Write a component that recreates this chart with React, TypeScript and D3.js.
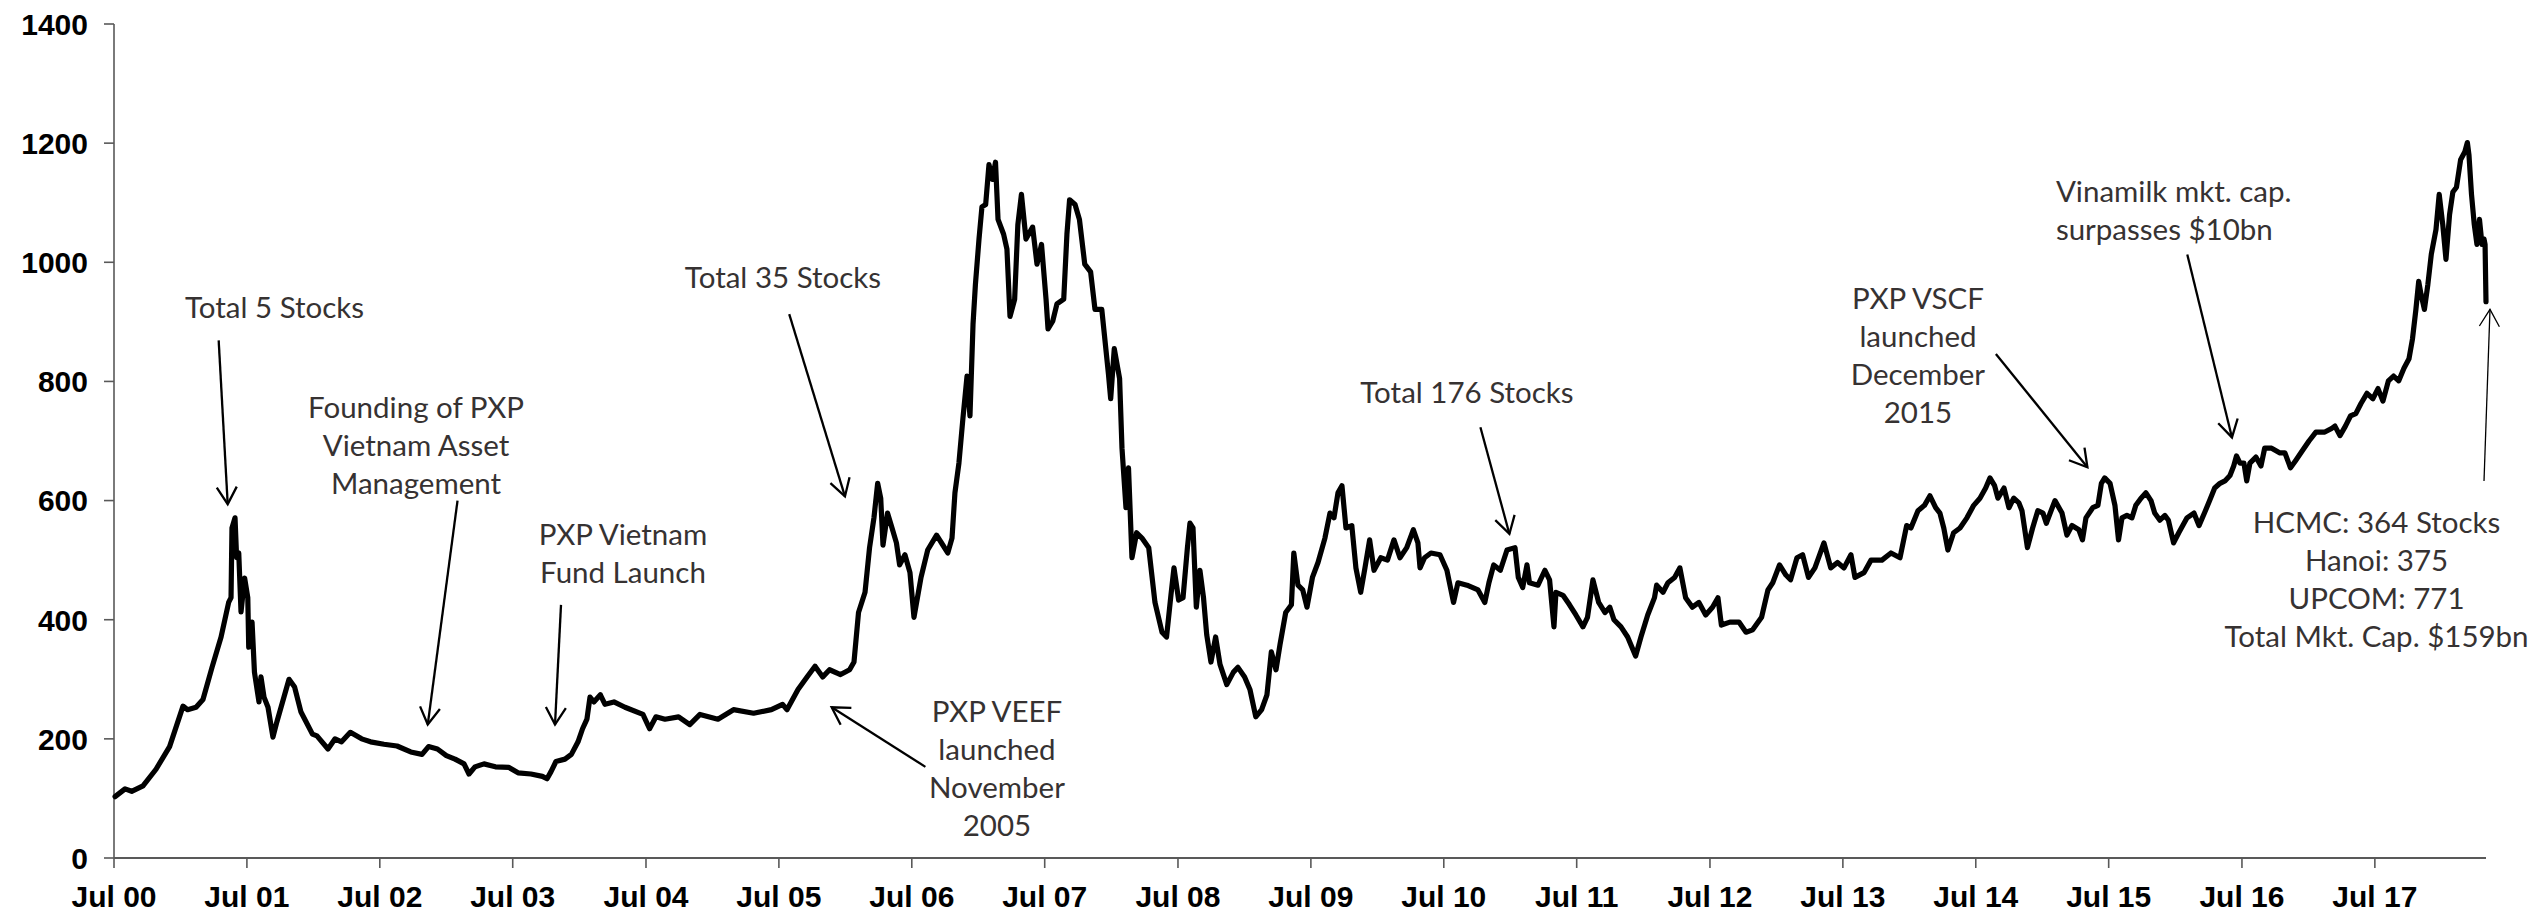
import React from 'react';
import * as d3 from 'd3';

// VN-Index (decimal year, index level)
const indexSeries: [number, number][] = [
  [2000.508, 103], [2000.583, 116], [2000.633, 112], [2000.718, 121], [2000.816, 149], [2000.918, 187],
  [2001.019, 255], [2001.053, 249], [2001.117, 253], [2001.169, 266], [2001.237, 320], [2001.305, 371],
  [2001.362, 429], [2001.38, 437], [2001.387, 554], [2001.41, 571], [2001.422, 504], [2001.438, 512],
  [2001.455, 413], [2001.482, 470], [2001.506, 437], [2001.513, 354], [2001.538, 396], [2001.556, 312],
  [2001.59, 262], [2001.605, 304], [2001.628, 270], [2001.658, 253], [2001.695, 203], [2001.724, 228],
  [2001.816, 300], [2001.858, 287], [2001.906, 245], [2001.992, 208], [2002.026, 205], [2002.109, 183],
  [2002.162, 200], [2002.211, 195], [2002.277, 211], [2002.362, 200], [2002.429, 195], [2002.53, 191],
  [2002.628, 188], [2002.731, 178], [2002.816, 174], [2002.865, 187], [2002.932, 183], [2002.999, 172],
  [2003.064, 166], [2003.132, 158], [2003.169, 141], [2003.214, 153], [2003.282, 158], [2003.368, 153],
  [2003.47, 152], [2003.538, 143], [2003.635, 141], [2003.721, 137], [2003.756, 133], [2003.786, 145],
  [2003.823, 162], [2003.891, 166], [2003.939, 174], [2003.989, 195], [2004.023, 217], [2004.056, 233],
  [2004.079, 270], [2004.108, 262], [2004.157, 274], [2004.192, 258], [2004.259, 262], [2004.342, 253],
  [2004.477, 241], [2004.527, 217], [2004.575, 237], [2004.643, 233], [2004.745, 237], [2004.829, 224],
  [2004.906, 241], [2005.041, 233], [2005.158, 249], [2005.309, 243], [2005.443, 249], [2005.527, 258],
  [2005.56, 249], [2005.643, 283], [2005.711, 304], [2005.771, 322], [2005.829, 304], [2005.88, 316],
  [2005.963, 308], [2006.031, 316], [2006.064, 329], [2006.098, 412], [2006.147, 446], [2006.181, 521],
  [2006.214, 571], [2006.242, 629], [2006.265, 604], [2006.282, 525], [2006.316, 579], [2006.35, 554],
  [2006.383, 529], [2006.407, 492], [2006.447, 509], [2006.485, 479], [2006.515, 404], [2006.568, 471],
  [2006.618, 517], [2006.685, 542], [2006.733, 525], [2006.769, 512], [2006.801, 537], [2006.823, 613],
  [2006.853, 663], [2006.883, 738], [2006.914, 809], [2006.936, 742], [2006.959, 896], [2006.977, 963],
  [2007.004, 1039], [2007.026, 1093], [2007.054, 1097], [2007.079, 1164], [2007.105, 1139], [2007.128, 1168],
  [2007.147, 1072], [2007.189, 1047], [2007.214, 1022], [2007.237, 909], [2007.272, 938], [2007.296, 1063],
  [2007.323, 1114], [2007.357, 1039], [2007.407, 1059], [2007.44, 997], [2007.474, 1030], [2007.508, 938],
  [2007.523, 888], [2007.558, 901], [2007.59, 930], [2007.641, 938], [2007.665, 1047], [2007.685, 1105],
  [2007.726, 1097], [2007.759, 1072], [2007.799, 997], [2007.843, 984], [2007.876, 921], [2007.927, 921],
  [2007.977, 813], [2007.994, 771], [2008.021, 855], [2008.061, 805], [2008.079, 688], [2008.109, 588],
  [2008.128, 655], [2008.154, 504], [2008.189, 546], [2008.229, 537], [2008.28, 521], [2008.327, 429],
  [2008.38, 379], [2008.414, 371], [2008.447, 441], [2008.47, 487], [2008.505, 433], [2008.538, 437],
  [2008.571, 521], [2008.59, 562], [2008.613, 554], [2008.638, 421], [2008.665, 483], [2008.692, 437],
  [2008.716, 375], [2008.748, 329], [2008.783, 371], [2008.816, 325], [2008.867, 291], [2008.917, 312],
  [2008.951, 320], [2009.001, 304], [2009.041, 283], [2009.085, 237], [2009.129, 249], [2009.169, 274],
  [2009.202, 346], [2009.237, 316], [2009.267, 358], [2009.31, 412], [2009.353, 425], [2009.371, 512],
  [2009.402, 458], [2009.438, 450], [2009.47, 421], [2009.511, 471], [2009.553, 496], [2009.605, 537],
  [2009.643, 579], [2009.673, 571], [2009.703, 613], [2009.733, 625], [2009.763, 554], [2009.807, 558],
  [2009.838, 487], [2009.874, 446], [2009.906, 487], [2009.941, 534], [2009.974, 483], [2010.025, 504],
  [2010.075, 500], [2010.124, 534], [2010.169, 504], [2010.22, 521], [2010.27, 551], [2010.304, 529],
  [2010.32, 487], [2010.354, 504], [2010.402, 512], [2010.47, 509], [2010.522, 483], [2010.572, 429],
  [2010.605, 462], [2010.673, 458], [2010.756, 450], [2010.807, 429], [2010.838, 462], [2010.874, 492],
  [2010.924, 483], [2010.974, 517], [2011.034, 521], [2011.059, 471], [2011.092, 454], [2011.124, 492],
  [2011.143, 462], [2011.207, 458], [2011.259, 483], [2011.294, 467], [2011.327, 388], [2011.342, 446],
  [2011.395, 441], [2011.444, 425], [2011.492, 408], [2011.545, 388], [2011.579, 404], [2011.62, 467],
  [2011.663, 429], [2011.711, 412], [2011.747, 421], [2011.778, 400], [2011.831, 388], [2011.881, 371],
  [2011.941, 339], [2011.981, 371], [2012.032, 408], [2012.083, 437], [2012.099, 458], [2012.147, 446],
  [2012.184, 462], [2012.234, 471], [2012.274, 487], [2012.317, 437], [2012.368, 421], [2012.417, 429],
  [2012.468, 408], [2012.519, 421], [2012.56, 437], [2012.586, 391], [2012.65, 396], [2012.718, 396],
  [2012.771, 379], [2012.821, 383], [2012.888, 404], [2012.936, 450], [2012.972, 462], [2013.023, 492],
  [2013.071, 475], [2013.106, 467], [2013.154, 504], [2013.197, 509], [2013.241, 471], [2013.289, 487],
  [2013.357, 529], [2013.408, 487], [2013.459, 496], [2013.508, 487], [2013.56, 509], [2013.59, 471],
  [2013.658, 479], [2013.711, 500], [2013.793, 500], [2013.861, 512], [2013.929, 504], [2013.979, 558],
  [2014.011, 554], [2014.064, 583], [2014.113, 592], [2014.154, 608], [2014.197, 588], [2014.229, 579],
  [2014.258, 554], [2014.289, 517], [2014.332, 546], [2014.38, 554], [2014.432, 571], [2014.483, 592],
  [2014.53, 604], [2014.573, 621], [2014.605, 638], [2014.64, 625], [2014.665, 604], [2014.711, 621],
  [2014.748, 588], [2014.784, 604], [2014.823, 596], [2014.846, 583], [2014.887, 521], [2014.926, 554],
  [2014.965, 583], [2015.004, 579], [2015.029, 562], [2015.094, 600], [2015.147, 579], [2015.184, 542],
  [2015.222, 558], [2015.274, 551], [2015.301, 534], [2015.327, 571], [2015.378, 588], [2015.417, 592],
  [2015.443, 629], [2015.468, 638], [2015.508, 629], [2015.545, 592], [2015.572, 534], [2015.598, 571],
  [2015.635, 575], [2015.673, 571], [2015.702, 592], [2015.741, 604], [2015.778, 613], [2015.816, 600],
  [2015.844, 579], [2015.883, 567], [2015.921, 575], [2015.947, 567], [2015.986, 529], [2016.025, 546],
  [2016.087, 571], [2016.139, 579], [2016.177, 558], [2016.218, 579], [2016.257, 600], [2016.295, 621],
  [2016.335, 629], [2016.372, 633], [2016.41, 642], [2016.438, 658], [2016.459, 675], [2016.485, 663],
  [2016.515, 663], [2016.536, 633], [2016.56, 663], [2016.605, 673], [2016.643, 658], [2016.671, 688],
  [2016.723, 688], [2016.786, 680], [2016.823, 680], [2016.865, 655], [2016.903, 667], [2016.955, 684],
  [2017.004, 700], [2017.056, 715], [2017.123, 715], [2017.174, 721], [2017.199, 725], [2017.237, 709],
  [2017.278, 725], [2017.316, 742], [2017.356, 746], [2017.395, 763], [2017.44, 780], [2017.485, 771],
  [2017.523, 788], [2017.56, 767], [2017.601, 801], [2017.64, 809], [2017.679, 801], [2017.718, 822],
  [2017.756, 838], [2017.782, 871], [2017.808, 921], [2017.829, 968], [2017.846, 947], [2017.872, 921],
  [2017.898, 963], [2017.924, 1014], [2017.959, 1055], [2017.983, 1114], [2018.01, 1063], [2018.034, 1005],
  [2018.061, 1080], [2018.086, 1118], [2018.113, 1126], [2018.144, 1172], [2018.175, 1185], [2018.195, 1201],
  [2018.207, 1180], [2018.226, 1114], [2018.247, 1063], [2018.267, 1030], [2018.286, 1072], [2018.305, 1030],
  [2018.32, 1039], [2018.328, 1030], [2018.335, 934],
];

const yTickValues = [0, 200, 400, 600, 800, 1000, 1200, 1400];
const xTickYears = d3.range(2000, 2018);
const xTickLabels = xTickYears.map(y => `Jul ${String(y % 100).padStart(2, '0')}`);

// call-outs: label anchor and arrow tail/tip given in (year, index) units
const annotations = [
  { lines: ['Total 5 Stocks'], at: [2001.707, 906], align: 'middle', from: [2001.287, 869], to: [2001.355, 594] },
  { lines: ['Founding of PXP', 'Vietnam Asset', 'Management'], at: [2002.771, 738], align: 'middle', from: [2003.083, 600], to: [2002.859, 224] },
  { lines: ['PXP Vietnam', 'Fund Launch'], at: [2004.327, 525], align: 'middle', from: [2003.861, 425], to: [2003.816, 224] },
  { lines: ['Total 35 Stocks'], at: [2005.53, 957], align: 'middle', from: [2005.577, 913], to: [2005.996, 607] },
  { lines: ['PXP VEEF', 'launched', 'November', '2005'], at: [2007.139, 228], align: 'middle', from: [2006.601, 153], to: [2005.896, 253] },
  { lines: ['Total 176 Stocks'], at: [2010.673, 763], align: 'middle', from: [2010.774, 723], to: [2010.992, 544] },
  { lines: ['PXP VSCF', 'launched', 'December', '2015'], at: [2014.064, 921], align: 'middle', from: [2014.65, 846], to: [2015.338, 656] },
  { lines: ['Vinamilk mkt. cap.', 'surpasses $10bn'], at: [2015.101, 1101], align: 'start', from: [2016.089, 1013], to: [2016.425, 706] },
  { lines: ['HCMC: 364 Stocks', 'Hanoi: 375', 'UPCOM: 771', 'Total Mkt. Cap. $159bn'], at: [2017.512, 546], align: 'middle', from: [2018.32, 633], to: [2018.365, 921], thin: true },
];

const W = 2539;
const H = 916;
const left = 114, right = 2486, top = 24, bottom = 858;

const base = new Date(2000, 6, 1).getTime();
const toDate = (dy: number) => new Date(base + (dy - 2000.5) * 365.25 * 864e5);

export default function App() {
  const x = d3.scaleTime().domain([toDate(2000.5), toDate(2018.335)]).range([left, right]);
  const y = d3.scaleLinear().domain([0, 1400]).range([bottom, top]);

  const line = d3.line<[number, number]>()
    .x(d => x(toDate(d[0])))
    .y(d => y(d[1]));

  const arrow = (a: any, i: number) => {
    const x1 = x(toDate(a.from[0])), y1 = y(a.from[1]);
    const x2 = x(toDate(a.to[0])), y2 = y(a.to[1]);
    const len = Math.hypot(x2 - x1, y2 - y1);
    const ux = (x2 - x1) / len, uy = (y2 - y1) / len;
    const L = 17, Wd = 10;
    const head = `M${x2 - L * ux - Wd * uy},${y2 - L * uy + Wd * ux}L${x2},${y2}L${x2 - L * ux + Wd * uy},${y2 - L * uy - Wd * ux}`;
    const sw = a.thin ? 1.3 : 2.3;
    return (
      <g key={'a' + i} stroke="#000" fill="none" strokeWidth={sw}>
        <line x1={x1} y1={y1} x2={x2} y2={y2} />
        <path d={head} strokeLinejoin="miter" />
      </g>
    );
  };

  return (
    <svg width={W} height={H} style={{ position: 'absolute', left: 0, top: 0, display: 'block', background: '#fff' }}>
      {/* y axis */}
      <line x1={left} x2={left} y1={top} y2={bottom} stroke="#595959" strokeWidth={1.6} />
      {yTickValues.map(v => (
        <g key={v}>
          <line x1={left - 10} x2={left} y1={y(v)} y2={y(v)} stroke="#595959" strokeWidth={1.6} />
          <text x={88} y={y(v)} dy="0.36em" textAnchor="end" fontFamily="'Liberation Sans', Arial, sans-serif"
            fontWeight="bold" fontSize={30} fill="#000">{v}</text>
        </g>
      ))}
      {/* x axis */}
      <line x1={left} x2={right} y1={bottom} y2={bottom} stroke="#595959" strokeWidth={2} />
      {xTickYears.map((yr, i) => {
        const px = x(new Date(yr, 6, 1));
        return (
          <g key={yr}>
            <line x1={px} x2={px} y1={bottom} y2={bottom + 10} stroke="#595959" strokeWidth={1.6} />
            <text x={px} y={907} textAnchor="middle" fontFamily="'Liberation Sans', Arial, sans-serif"
              fontWeight="bold" fontSize={30} fill="#000">{xTickLabels[i]}</text>
          </g>
        );
      })}
      {/* index line */}
      <path d={line(indexSeries) || ''} fill="none" stroke="#000" strokeWidth={5.2} strokeLinejoin="round" strokeLinecap="round" />
      {/* call-outs */}
      {annotations.map((a, i) => (
        <text key={'t' + i} x={x(toDate(a.at[0]))} y={y(a.at[1])} textAnchor={a.align as any}
          fontFamily="Lato, 'Open Sans', sans-serif" fontSize={29.5} fill="#363232">
          {a.lines.map((l, j) => (
            <tspan key={j} x={x(toDate(a.at[0]))} dy={j === 0 ? 0 : 38}>{l}</tspan>
          ))}
        </text>
      ))}
      {annotations.map(arrow)}
    </svg>
  );
}
